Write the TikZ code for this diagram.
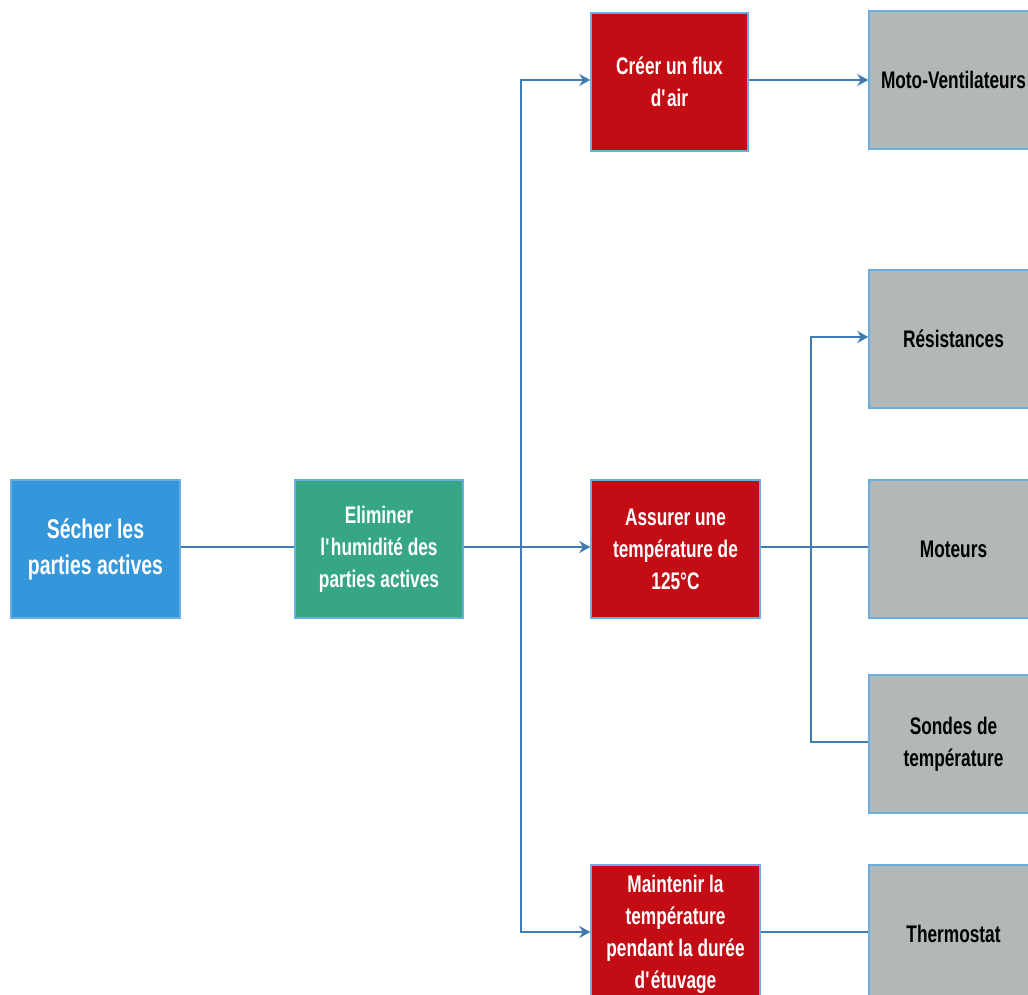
\documentclass[tikz,border=0pt]{standalone}
\usepackage{fontspec}
\setmainfont{Liberation Sans}[FakeStretch=0.72]
\usepackage{xcolor}
\usetikzlibrary{arrows.meta, positioning, calc}

\definecolor{fctblue}{HTML}{3597DB}
\definecolor{fctgreen}{HTML}{36A685}
\definecolor{fctred}{HTML}{C30C14}
\definecolor{soltgray}{HTML}{B2B8B8}
\definecolor{boxedge}{HTML}{6AAEE0}
\definecolor{linkcol}{HTML}{3E7CB1}

\begin{document}
\begin{tikzpicture}[
    x=1pt, y=-1pt,
    every node/.style={draw=boxedge, line width=1.5pt, inner sep=0pt, minimum width=169pt, minimum height=138pt, align=center, font=\bfseries\fontsize{24}{32}\selectfont},
    fct/.style={fill=fctred, text=white},
    solution/.style={fill=soltgray, text=black},
    link/.style={draw=linkcol, line width=1.8pt},
    arrow/.style={link, -{Stealth[length=11pt, width=12pt]}}
]
    \useasboundingbox (0,0) rectangle (1028,995);

    % fonctions
    \node[fill=fctblue, text=white, font=\bfseries\fontsize{27}{36}\selectfont] (secher) at (95.5,549) {Sécher les\\parties actives};
    \node[fill=fctgreen, text=white, minimum width=168pt] (eliminer) at (379,549) {Eliminer\\l\textquotesingle humidité des\\parties actives};
    \node[fct, minimum width=157pt] (flux) at (669.5,82) {Créer un flux\\d\textquotesingle air};
    \node[fct] (temp) at (675.5,549) {Assurer une\\température de\\125°C};
    \node[fct] (maintien) at (675.5,934) {Maintenir la\\température\\pendant la durée\\d\textquotesingle étuvage};

    % solutions
    \node[solution] (moto) at (953.5,80) {Moto-Ventilateurs};
    \node[solution] (resist) at (953.5,339) {Résistances};
    \node[solution] (moteurs) at (953.5,549) {Moteurs};
    \node[solution] (sondes) at (953.5,744) {Sondes de\\température};
    \node[solution] (thermo) at (953.5,934) {Thermostat};

    \coordinate (j1) at (521,547);
    \coordinate (j2) at (811,547);

    \draw[link] (secher.east |- j1) -- (eliminer.west |- j1);
    \draw[link] (eliminer.east |- j1) -- (j1);
    \draw[arrow] (j1) |- (flux.west |- 0,80);
    \draw[arrow] (j1) -- (temp.west |- j1);
    \draw[arrow] (j1) |- (maintien.west |- 0,932);

    \draw[arrow] (flux.east |- 0,80) -- (moto.west |- 0,80);
    \draw[link] (temp.east |- j2) -- (j2);
    \draw[arrow] (j2) |- (resist.west |- 0,337);
    \draw[link] (j2) -- (moteurs.west |- j2);
    \draw[link] (j2) |- (sondes.west |- 0,742);
    \draw[link] (maintien.east |- 0,932) -- (thermo.west |- 0,932);
\end{tikzpicture}
\end{document}
